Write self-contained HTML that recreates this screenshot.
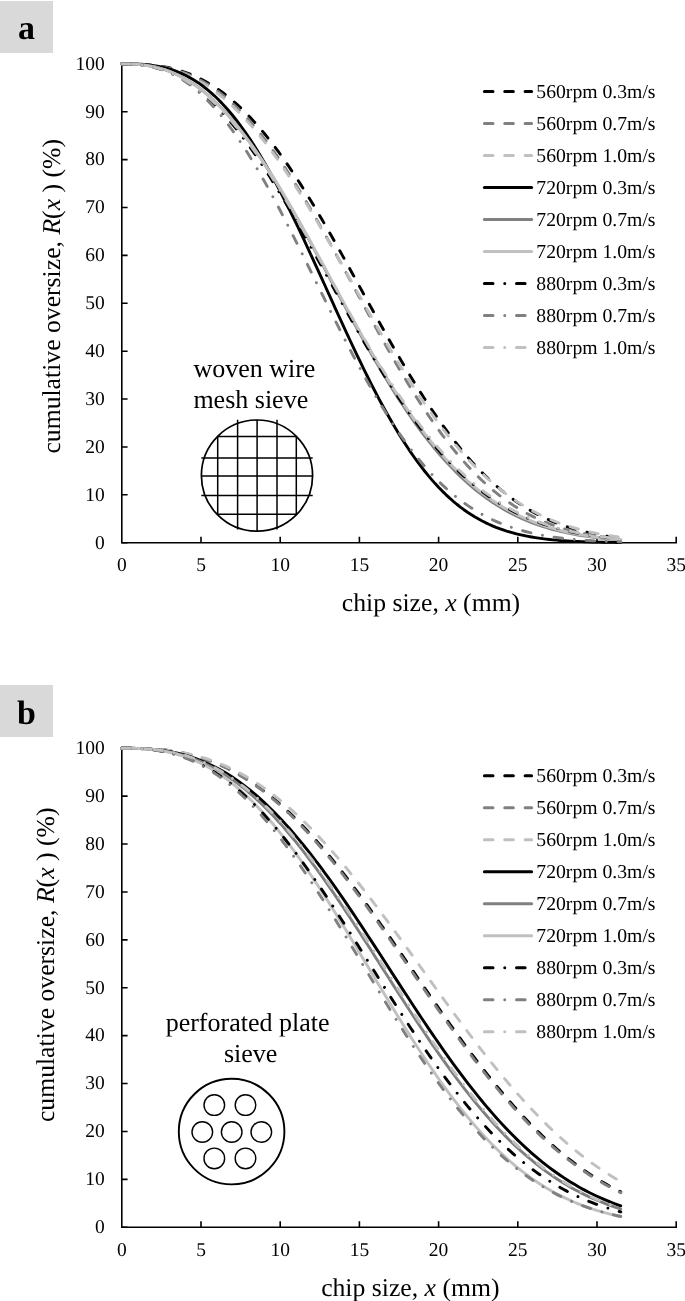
<!DOCTYPE html>
<html><head><meta charset="utf-8"><style>
html,body{margin:0;padding:0;background:#fff;}
body{width:685px;height:1301px;overflow:hidden;}
svg{display:block;font-family:"Liberation Serif", serif;will-change:transform;text-rendering:geometricPrecision;}
</style></head><body>
<svg width="685" height="1301" viewBox="0 0 685 1301">
<rect x="0" y="1" width="53" height="52" fill="#d9d9d9"/>
<text x="26.5" y="39.4" font-size="34" font-weight="bold" text-anchor="middle">a</text>
<path d="M121.8 63.2V542.7H677" fill="none" stroke="#000" stroke-width="1.6"/>
<path d="M121.8 542.7H127.6M121.8 494.82H127.6M121.8 446.94H127.6M121.8 399.06H127.6M121.8 351.18H127.6M121.8 303.3H127.6M121.8 255.42H127.6M121.8 207.54H127.6M121.8 159.66H127.6M121.8 111.78H127.6M121.8 63.9H127.6M201 542.7V536.7M280.2 542.7V536.7M359.4 542.7V536.7M438.6 542.7V536.7M517.8 542.7V536.7M597 542.7V536.7M676.2 542.7V536.7" stroke="#000" stroke-width="1.6"/>
<text x="104.8" y="548.5" font-size="19.5" text-anchor="end">0</text>
<text x="104.8" y="500.62" font-size="19.5" text-anchor="end">10</text>
<text x="104.8" y="452.74" font-size="19.5" text-anchor="end">20</text>
<text x="104.8" y="404.86" font-size="19.5" text-anchor="end">30</text>
<text x="104.8" y="356.98" font-size="19.5" text-anchor="end">40</text>
<text x="104.8" y="309.1" font-size="19.5" text-anchor="end">50</text>
<text x="104.8" y="261.22" font-size="19.5" text-anchor="end">60</text>
<text x="104.8" y="213.34" font-size="19.5" text-anchor="end">70</text>
<text x="104.8" y="165.46" font-size="19.5" text-anchor="end">80</text>
<text x="104.8" y="117.58" font-size="19.5" text-anchor="end">90</text>
<text x="104.8" y="69.7" font-size="19.5" text-anchor="end">100</text>
<text x="121.8" y="571.3" font-size="19.5" text-anchor="middle">0</text>
<text x="201" y="571.3" font-size="19.5" text-anchor="middle">5</text>
<text x="280.2" y="571.3" font-size="19.5" text-anchor="middle">10</text>
<text x="359.4" y="571.3" font-size="19.5" text-anchor="middle">15</text>
<text x="438.6" y="571.3" font-size="19.5" text-anchor="middle">20</text>
<text x="517.8" y="571.3" font-size="19.5" text-anchor="middle">25</text>
<text x="597" y="571.3" font-size="19.5" text-anchor="middle">30</text>
<text x="676.2" y="571.3" font-size="19.5" text-anchor="middle">35</text>
<text x="431" y="611" font-size="25.7" text-anchor="middle">chip size, <tspan font-style="italic">x</tspan> (mm)</text>
<text transform="translate(60.2 296.3) rotate(-90)" font-size="25.7" text-anchor="middle">cumulative oversize, <tspan font-style="italic">R</tspan>(<tspan font-style="italic">x</tspan> ) (%)</text>
<path d="M121.8 63.9 125.36 63.9 128.93 63.92 132.49 63.97 136.06 64.05 139.62 64.17 143.18 64.35 146.75 64.58 150.31 64.87 153.88 65.24 157.44 65.68 161 66.2 164.57 66.81 168.13 67.51 171.7 68.3 175.26 69.2 178.82 70.2 182.39 71.31 185.95 72.53 189.52 73.88 193.08 75.34 196.64 76.93 200.21 78.65 203.77 80.5 207.34 82.48 210.9 84.59 214.46 86.85 218.03 89.25 221.59 91.78 225.16 94.46 228.72 97.29 232.28 100.26 235.85 103.37 239.41 106.64 242.98 110.05 246.54 113.6 250.1 117.3 253.67 121.15 257.23 125.14 260.8 129.27 264.36 133.54 267.92 137.95 271.49 142.49 275.05 147.17 278.62 151.98 282.18 156.92 285.74 161.98 289.31 167.16 292.87 172.46 296.44 177.87 300 183.39 303.56 189.01 307.13 194.73 310.69 200.54 314.26 206.44 317.82 212.43 321.38 218.48 324.95 224.61 328.51 230.8 332.08 237.06 335.64 243.36 339.2 249.71 342.77 256.1 346.33 262.52 349.9 268.96 353.46 275.43 357.02 281.91 360.59 288.39 364.15 294.87 367.72 301.35 371.28 307.81 374.84 314.25 378.41 320.66 381.97 327.04 385.54 333.39 389.1 339.68 392.66 345.92 396.23 352.11 399.79 358.24 403.36 364.29 406.92 370.27 410.48 376.18 414.05 382 417.61 387.73 421.18 393.37 424.74 398.91 428.3 404.36 431.87 409.7 435.43 414.93 439 420.05 442.56 425.06 446.12 429.96 449.69 434.74 453.25 439.4 456.82 443.94 460.38 448.35 463.94 452.65 467.51 456.82 471.07 460.86 474.64 464.78 478.2 468.58 481.76 472.25 485.33 475.8 488.89 479.22 492.46 482.52 496.02 485.7 499.58 488.76 503.15 491.7 506.71 494.53 510.28 497.23 513.84 499.83 517.4 502.31 520.97 504.69 524.53 506.96 528.1 509.12 531.66 511.18 535.22 513.15 538.79 515.02 542.35 516.79 545.92 518.48 549.48 520.07 553.04 521.58 556.61 523.01 560.17 524.37 563.74 525.64 567.3 526.84 570.86 527.98 574.43 529.04 577.99 530.04 581.56 530.98 585.12 531.86 588.68 532.69 592.25 533.46 595.81 534.18 599.38 534.86 602.94 535.48 606.5 536.07 610.07 536.61 613.63 537.12 617.2 537.58 620.76 538.02" fill="none" stroke="#000000" stroke-width="2.9" stroke-linecap="round" stroke-linejoin="round" stroke-dasharray="8.6 11.75"/>
<path d="M121.8 63.9 125.36 63.9 128.93 63.93 132.49 63.98 136.06 64.07 139.62 64.21 143.18 64.4 146.75 64.66 150.31 64.99 153.88 65.39 157.44 65.88 161 66.45 164.57 67.12 168.13 67.89 171.7 68.76 175.26 69.74 178.82 70.84 182.39 72.05 185.95 73.39 189.52 74.85 193.08 76.44 196.64 78.17 200.21 80.03 203.77 82.03 207.34 84.17 210.9 86.46 214.46 88.9 218.03 91.48 221.59 94.21 225.16 97.09 228.72 100.13 232.28 103.31 235.85 106.65 239.41 110.15 242.98 113.79 246.54 117.59 250.1 121.53 253.67 125.63 257.23 129.87 260.8 134.26 264.36 138.79 267.92 143.46 271.49 148.28 275.05 153.22 278.62 158.3 282.18 163.5 285.74 168.83 289.31 174.28 292.87 179.84 296.44 185.51 300 191.29 303.56 197.16 307.13 203.13 310.69 209.19 314.26 215.33 317.82 221.54 321.38 227.82 324.95 234.17 328.51 240.57 332.08 247.02 335.64 253.52 339.2 260.04 342.77 266.6 346.33 273.18 349.9 279.78 353.46 286.38 357.02 292.98 360.59 299.58 364.15 306.16 367.72 312.72 371.28 319.26 374.84 325.76 378.41 332.22 381.97 338.64 385.54 345 389.1 351.3 392.66 357.54 396.23 363.71 399.79 369.8 403.36 375.81 406.92 381.73 410.48 387.56 414.05 393.3 417.61 398.93 421.18 404.47 424.74 409.89 428.3 415.21 431.87 420.4 435.43 425.49 439 430.45 442.56 435.29 446.12 440.01 449.69 444.6 453.25 449.07 456.82 453.41 460.38 457.62 463.94 461.7 467.51 465.66 471.07 469.48 474.64 473.18 478.2 476.75 481.76 480.19 485.33 483.5 488.89 486.69 492.46 489.75 496.02 492.7 499.58 495.52 503.15 498.23 506.71 500.82 510.28 503.29 513.84 505.66 517.4 507.91 520.97 510.06 524.53 512.11 528.1 514.05 531.66 515.9 535.22 517.66 538.79 519.32 542.35 520.89 545.92 522.38 549.48 523.78 553.04 525.11 556.61 526.36 560.17 527.54 563.74 528.64 567.3 529.68 570.86 530.66 574.43 531.57 577.99 532.42 581.56 533.22 585.12 533.97 588.68 534.67 592.25 535.31 595.81 535.92 599.38 536.48 602.94 537 606.5 537.48 610.07 537.93 613.63 538.34 617.2 538.73 620.76 539.08" fill="none" stroke="#808080" stroke-width="2.9" stroke-linecap="round" stroke-linejoin="round" stroke-dasharray="8.6 11.75"/>
<path d="M121.8 63.9 125.36 63.91 128.93 63.94 132.49 64.01 136.06 64.12 139.62 64.3 143.18 64.54 146.75 64.85 150.31 65.24 153.88 65.71 157.44 66.27 161 66.93 164.57 67.69 168.13 68.56 171.7 69.53 175.26 70.62 178.82 71.83 182.39 73.16 185.95 74.61 189.52 76.19 193.08 77.9 196.64 79.75 200.21 81.73 203.77 83.85 207.34 86.1 210.9 88.5 214.46 91.05 218.03 93.73 221.59 96.56 225.16 99.54 228.72 102.66 232.28 105.92 235.85 109.33 239.41 112.88 242.98 116.57 246.54 120.41 250.1 124.39 253.67 128.5 257.23 132.75 260.8 137.14 264.36 141.65 267.92 146.3 271.49 151.07 275.05 155.96 278.62 160.97 282.18 166.09 285.74 171.32 289.31 176.66 292.87 182.11 296.44 187.64 300 193.28 303.56 198.99 307.13 204.79 310.69 210.67 314.26 216.61 317.82 222.63 321.38 228.7 324.95 234.82 328.51 240.99 332.08 247.21 335.64 253.45 339.2 259.73 342.77 266.03 346.33 272.35 349.9 278.67 353.46 285.01 357.02 291.34 360.59 297.66 364.15 303.97 367.72 310.25 371.28 316.52 374.84 322.75 378.41 328.94 381.97 335.09 385.54 341.19 389.1 347.24 392.66 353.23 396.23 359.15 399.79 365.01 403.36 370.79 406.92 376.5 410.48 382.13 414.05 387.67 417.61 393.12 421.18 398.48 424.74 403.74 428.3 408.9 431.87 413.97 435.43 418.92 439 423.78 442.56 428.52 446.12 433.15 449.69 437.67 453.25 442.08 456.82 446.37 460.38 450.55 463.94 454.62 467.51 458.56 471.07 462.39 474.64 466.11 478.2 469.7 481.76 473.19 485.33 476.55 488.89 479.8 492.46 482.94 496.02 485.97 499.58 488.89 503.15 491.69 506.71 494.39 510.28 496.98 513.84 499.47 517.4 501.86 520.97 504.14 524.53 506.33 528.1 508.42 531.66 510.42 535.22 512.32 538.79 514.14 542.35 515.87 545.92 517.52 549.48 519.09 553.04 520.57 556.61 521.99 560.17 523.32 563.74 524.59 567.3 525.79 570.86 526.92 574.43 527.99 577.99 529 581.56 529.96 585.12 530.85 588.68 531.7 592.25 532.49 595.81 533.23 599.38 533.93 602.94 534.58 606.5 535.19 610.07 535.77 613.63 536.3 617.2 536.8 620.76 537.26" fill="none" stroke="#c0c0c0" stroke-width="2.9" stroke-linecap="round" stroke-linejoin="round" stroke-dasharray="8.6 11.75"/>
<path d="M121.8 63.9 125.36 63.9 128.93 63.93 132.49 63.98 136.06 64.07 139.62 64.23 143.18 64.44 146.75 64.74 150.31 65.12 153.88 65.59 157.44 66.17 161 66.86 164.57 67.68 168.13 68.62 171.7 69.7 175.26 70.93 178.82 72.31 182.39 73.85 185.95 75.56 189.52 77.43 193.08 79.49 196.64 81.73 200.21 84.16 203.77 86.77 207.34 89.59 210.9 92.61 214.46 95.82 218.03 99.25 221.59 102.88 225.16 106.72 228.72 110.77 232.28 115.02 235.85 119.49 239.41 124.16 242.98 129.04 246.54 134.13 250.1 139.41 253.67 144.89 257.23 150.57 260.8 156.43 264.36 162.48 267.92 168.7 271.49 175.09 275.05 181.65 278.62 188.36 282.18 195.22 285.74 202.22 289.31 209.35 292.87 216.6 296.44 223.96 300 231.42 303.56 238.97 307.13 246.6 310.69 254.29 314.26 262.04 317.82 269.83 321.38 277.66 324.95 285.5 328.51 293.36 332.08 301.21 335.64 309.04 339.2 316.85 342.77 324.62 346.33 332.33 349.9 339.99 353.46 347.58 357.02 355.08 360.59 362.49 364.15 369.79 367.72 376.99 371.28 384.06 374.84 391 378.41 397.81 381.97 404.47 385.54 410.98 389.1 417.33 392.66 423.52 396.23 429.54 399.79 435.39 403.36 441.07 406.92 446.56 410.48 451.87 414.05 457 417.61 461.94 421.18 466.69 424.74 471.26 428.3 475.65 431.87 479.85 435.43 483.86 439 487.7 442.56 491.35 446.12 494.83 449.69 498.14 453.25 501.27 456.82 504.24 460.38 507.05 463.94 509.7 467.51 512.2 471.07 514.55 474.64 516.76 478.2 518.83 481.76 520.77 485.33 522.58 488.89 524.27 492.46 525.85 496.02 527.31 499.58 528.67 503.15 529.93 506.71 531.1 510.28 532.17 513.84 533.16 517.4 534.07 520.97 534.91 524.53 535.68 528.1 536.38 531.66 537.02 535.22 537.61 538.79 538.14 542.35 538.63 545.92 539.07 549.48 539.46 553.04 539.82 556.61 540.14 560.17 540.44 563.74 540.7 567.3 540.93 570.86 541.14 574.43 541.33 577.99 541.5 581.56 541.65 585.12 541.78 588.68 541.89 592.25 542 595.81 542.09 599.38 542.17 602.94 542.24 606.5 542.3 610.07 542.36 613.63 542.4 617.2 542.45 620.76 542.48" fill="none" stroke="#000000" stroke-width="2.9" stroke-linecap="round" stroke-linejoin="round"/>
<path d="M121.8 63.9 125.36 63.91 128.93 63.97 132.49 64.09 136.06 64.28 139.62 64.56 143.18 64.93 146.75 65.41 150.31 65.99 153.88 66.7 157.44 67.53 161 68.49 164.57 69.58 168.13 70.81 171.7 72.19 175.26 73.71 178.82 75.39 182.39 77.21 185.95 79.2 189.52 81.35 193.08 83.65 196.64 86.12 200.21 88.76 203.77 91.56 207.34 94.52 210.9 97.66 214.46 100.95 218.03 104.42 221.59 108.04 225.16 111.83 228.72 115.78 232.28 119.9 235.85 124.16 239.41 128.59 242.98 133.16 246.54 137.88 250.1 142.75 253.67 147.76 257.23 152.9 260.8 158.18 264.36 163.58 267.92 169.1 271.49 174.75 275.05 180.5 278.62 186.36 282.18 192.31 285.74 198.37 289.31 204.5 292.87 210.72 296.44 217.01 300 223.37 303.56 229.79 307.13 236.26 310.69 242.78 314.26 249.34 317.82 255.92 321.38 262.54 324.95 269.17 328.51 275.81 332.08 282.45 335.64 289.09 339.2 295.72 342.77 302.33 346.33 308.91 349.9 315.46 353.46 321.98 357.02 328.45 360.59 334.87 364.15 341.24 367.72 347.54 371.28 353.78 374.84 359.94 378.41 366.02 381.97 372.02 385.54 377.93 389.1 383.75 392.66 389.48 396.23 395.1 399.79 400.62 403.36 406.03 406.92 411.33 410.48 416.52 414.05 421.6 417.61 426.55 421.18 431.39 424.74 436.1 428.3 440.69 431.87 445.16 435.43 449.5 439 453.72 442.56 457.82 446.12 461.78 449.69 465.63 453.25 469.34 456.82 472.94 460.38 476.4 463.94 479.75 467.51 482.98 471.07 486.08 474.64 489.07 478.2 491.94 481.76 494.7 485.33 497.34 488.89 499.88 492.46 502.3 496.02 504.62 499.58 506.84 503.15 508.95 506.71 510.97 510.28 512.89 513.84 514.72 517.4 516.46 520.97 518.12 524.53 519.68 528.1 521.17 531.66 522.58 535.22 523.91 538.79 525.17 542.35 526.36 545.92 527.48 549.48 528.54 553.04 529.54 556.61 530.47 560.17 531.35 563.74 532.18 567.3 532.95 570.86 533.68 574.43 534.36 577.99 534.99 581.56 535.59 585.12 536.14 588.68 536.66 592.25 537.14 595.81 537.59 599.38 538 602.94 538.39 606.5 538.74 610.07 539.08 613.63 539.38 617.2 539.67 620.76 539.93" fill="none" stroke="#808080" stroke-width="2.9" stroke-linecap="round" stroke-linejoin="round"/>
<path d="M121.8 63.9 125.36 63.91 128.93 63.97 132.49 64.1 136.06 64.3 139.62 64.58 143.18 64.97 146.75 65.46 150.31 66.06 153.88 66.78 157.44 67.63 161 68.6 164.57 69.71 168.13 70.96 171.7 72.36 175.26 73.9 178.82 75.59 182.39 77.44 185.95 79.44 189.52 81.6 193.08 83.92 196.64 86.4 200.21 89.04 203.77 91.85 207.34 94.82 210.9 97.95 214.46 101.25 218.03 104.71 221.59 108.33 225.16 112.11 228.72 116.05 232.28 120.15 235.85 124.4 239.41 128.8 242.98 133.35 246.54 138.05 250.1 142.88 253.67 147.85 257.23 152.96 260.8 158.2 264.36 163.56 267.92 169.03 271.49 174.62 275.05 180.32 278.62 186.13 282.18 192.03 285.74 198.02 289.31 204.09 292.87 210.24 296.44 216.47 300 222.76 303.56 229.11 307.13 235.51 310.69 241.95 314.26 248.43 317.82 254.95 321.38 261.49 324.95 268.04 328.51 274.61 332.08 281.17 335.64 287.74 339.2 294.29 342.77 300.83 346.33 307.34 349.9 313.83 353.46 320.28 357.02 326.68 360.59 333.04 364.15 339.34 367.72 345.59 371.28 351.76 374.84 357.87 378.41 363.9 381.97 369.86 385.54 375.72 389.1 381.5 392.66 387.19 396.23 392.78 399.79 398.26 403.36 403.65 406.92 408.93 410.48 414.1 414.05 419.15 417.61 424.1 421.18 428.92 424.74 433.63 428.3 438.22 431.87 442.7 435.43 447.04 439 451.27 442.56 455.38 446.12 459.36 449.69 463.22 453.25 466.96 456.82 470.58 460.38 474.08 463.94 477.46 467.51 480.72 471.07 483.86 474.64 486.89 478.2 489.8 481.76 492.6 485.33 495.29 488.89 497.87 492.46 500.34 496.02 502.71 499.58 504.97 503.15 507.14 506.71 509.21 510.28 511.18 513.84 513.06 517.4 514.86 520.97 516.56 524.53 518.18 528.1 519.72 531.66 521.18 535.22 522.57 538.79 523.88 542.35 525.12 545.92 526.29 549.48 527.4 553.04 528.44 556.61 529.43 560.17 530.36 563.74 531.23 567.3 532.05 570.86 532.82 574.43 533.54 577.99 534.22 581.56 534.85 585.12 535.44 588.68 536 592.25 536.51 595.81 537 599.38 537.45 602.94 537.86 606.5 538.25 610.07 538.61 613.63 538.95 617.2 539.26 620.76 539.55" fill="none" stroke="#c0c0c0" stroke-width="2.9" stroke-linecap="round" stroke-linejoin="round"/>
<path d="M121.8 63.9 125.36 63.92 128.93 63.99 132.49 64.15 136.06 64.39 139.62 64.73 143.18 65.19 146.75 65.76 150.31 66.45 153.88 67.27 157.44 68.23 161 69.33 164.57 70.57 168.13 71.95 171.7 73.49 175.26 75.18 178.82 77.03 182.39 79.03 185.95 81.2 189.52 83.52 193.08 86.01 196.64 88.66 200.21 91.48 203.77 94.46 207.34 97.6 210.9 100.9 214.46 104.36 218.03 107.98 221.59 111.76 225.16 115.7 228.72 119.79 232.28 124.03 235.85 128.41 239.41 132.94 242.98 137.61 246.54 142.42 250.1 147.36 253.67 152.43 257.23 157.63 260.8 162.94 264.36 168.37 267.92 173.9 271.49 179.54 275.05 185.28 278.62 191.11 282.18 197.02 285.74 203.02 289.31 209.09 292.87 215.22 296.44 221.42 300 227.67 303.56 233.97 307.13 240.31 310.69 246.69 314.26 253.1 317.82 259.52 321.38 265.97 324.95 272.42 328.51 278.87 332.08 285.32 335.64 291.76 339.2 298.18 342.77 304.58 346.33 310.95 349.9 317.28 353.46 323.58 357.02 329.82 360.59 336.02 364.15 342.16 367.72 348.23 371.28 354.24 374.84 360.18 378.41 366.04 381.97 371.82 385.54 377.52 389.1 383.13 392.66 388.65 396.23 394.07 399.79 399.4 403.36 404.62 406.92 409.74 410.48 414.75 414.05 419.66 417.61 424.46 421.18 429.14 424.74 433.72 428.3 438.18 431.87 442.52 435.43 446.75 439 450.86 442.56 454.86 446.12 458.74 449.69 462.51 453.25 466.16 456.82 469.69 460.38 473.11 463.94 476.42 467.51 479.61 471.07 482.69 474.64 485.66 478.2 488.53 481.76 491.28 485.33 493.93 488.89 496.48 492.46 498.93 496.02 501.27 499.58 503.52 503.15 505.68 506.71 507.74 510.28 509.71 513.84 511.6 517.4 513.39 520.97 515.11 524.53 516.74 528.1 518.3 531.66 519.77 535.22 521.18 538.79 522.51 542.35 523.78 545.92 524.98 549.48 526.12 553.04 527.19 556.61 528.21 560.17 529.17 563.74 530.08 567.3 530.93 570.86 531.74 574.43 532.5 577.99 533.21 581.56 533.88 585.12 534.51 588.68 535.1 592.25 535.66 595.81 536.18 599.38 536.66 602.94 537.11 606.5 537.54 610.07 537.93 613.63 538.3 617.2 538.65 620.76 538.96" fill="none" stroke="#000000" stroke-width="2.9" stroke-linecap="round" stroke-linejoin="round" stroke-dasharray="8.6 11.75 0.01 11.75"/>
<path d="M121.8 63.9 125.36 63.91 128.93 63.98 132.49 64.11 136.06 64.34 139.62 64.66 143.18 65.09 146.75 65.65 150.31 66.34 153.88 67.17 157.44 68.15 161 69.28 164.57 70.57 168.13 72.03 171.7 73.66 175.26 75.47 178.82 77.46 182.39 79.63 185.95 81.99 189.52 84.54 193.08 87.28 196.64 90.21 200.21 93.34 203.77 96.67 207.34 100.19 210.9 103.91 214.46 107.82 218.03 111.92 221.59 116.21 225.16 120.69 228.72 125.36 232.28 130.21 235.85 135.24 239.41 140.44 242.98 145.81 246.54 151.35 250.1 157.04 253.67 162.88 257.23 168.88 260.8 175.01 264.36 181.27 267.92 187.66 271.49 194.16 275.05 200.78 278.62 207.49 282.18 214.3 285.74 221.19 289.31 228.16 292.87 235.2 296.44 242.29 300 249.42 303.56 256.6 307.13 263.81 310.69 271.03 314.26 278.27 317.82 285.51 321.38 292.74 324.95 299.95 328.51 307.14 332.08 314.3 335.64 321.41 339.2 328.47 342.77 335.47 346.33 342.41 349.9 349.27 353.46 356.05 357.02 362.74 360.59 369.33 364.15 375.83 367.72 382.21 371.28 388.48 374.84 394.64 378.41 400.67 381.97 406.58 385.54 412.35 389.1 417.99 392.66 423.49 396.23 428.85 399.79 434.06 403.36 439.14 406.92 444.06 410.48 448.84 414.05 453.46 417.61 457.94 421.18 462.27 424.74 466.45 428.3 470.48 431.87 474.36 435.43 478.09 439 481.68 442.56 485.13 446.12 488.43 449.69 491.59 453.25 494.62 456.82 497.51 460.38 500.27 463.94 502.9 467.51 505.41 471.07 507.79 474.64 510.06 478.2 512.2 481.76 514.24 485.33 516.17 488.89 517.99 492.46 519.71 496.02 521.33 499.58 522.86 503.15 524.3 506.71 525.65 510.28 526.92 513.84 528.11 517.4 529.23 520.97 530.27 524.53 531.25 528.1 532.16 531.66 533.01 535.22 533.8 538.79 534.53 542.35 535.21 545.92 535.85 549.48 536.43 553.04 536.97 556.61 537.48 560.17 537.94 563.74 538.37 567.3 538.76 570.86 539.12 574.43 539.45 577.99 539.76 581.56 540.04 585.12 540.29 588.68 540.52 592.25 540.74 595.81 540.93 599.38 541.11 602.94 541.27 606.5 541.42 610.07 541.55 613.63 541.67 617.2 541.78 620.76 541.88" fill="none" stroke="#808080" stroke-width="2.9" stroke-linecap="round" stroke-linejoin="round" stroke-dasharray="8.6 11.75 0.01 11.75"/>
<path d="M121.8 63.9 125.36 63.92 128.93 63.99 132.49 64.13 136.06 64.35 139.62 64.68 143.18 65.1 146.75 65.64 150.31 66.29 153.88 67.07 157.44 67.98 161 69.03 164.57 70.21 168.13 71.54 171.7 73.01 175.26 74.63 178.82 76.41 182.39 78.33 185.95 80.42 189.52 82.66 193.08 85.07 196.64 87.63 200.21 90.35 203.77 93.24 207.34 96.28 210.9 99.49 214.46 102.86 218.03 106.38 221.59 110.06 225.16 113.9 228.72 117.89 232.28 122.03 235.85 126.32 239.41 130.76 242.98 135.33 246.54 140.05 250.1 144.89 253.67 149.87 257.23 154.98 260.8 160.21 264.36 165.55 267.92 171 271.49 176.57 275.05 182.23 278.62 187.99 282.18 193.83 285.74 199.77 289.31 205.78 292.87 211.86 296.44 218 300 224.21 303.56 230.47 307.13 236.77 310.69 243.11 314.26 249.49 317.82 255.89 321.38 262.31 324.95 268.75 328.51 275.19 332.08 281.63 335.64 288.07 339.2 294.5 342.77 300.9 346.33 307.28 349.9 313.63 353.46 319.95 357.02 326.22 360.59 332.44 364.15 338.61 367.72 344.73 371.28 350.77 374.84 356.76 378.41 362.66 381.97 368.49 385.54 374.24 389.1 379.91 392.66 385.48 396.23 390.96 399.79 396.35 403.36 401.64 406.92 406.82 410.48 411.91 414.05 416.88 417.61 421.75 421.18 426.5 424.74 431.15 428.3 435.68 431.87 440.1 435.43 444.4 439 448.59 442.56 452.66 446.12 456.61 449.69 460.45 453.25 464.17 456.82 467.78 460.38 471.27 463.94 474.64 467.51 477.91 471.07 481.06 474.64 484.1 478.2 487.03 481.76 489.85 485.33 492.56 488.89 495.17 492.46 497.68 496.02 500.09 499.58 502.39 503.15 504.6 506.71 506.72 510.28 508.74 513.84 510.68 517.4 512.52 520.97 514.28 524.53 515.96 528.1 517.56 531.66 519.08 535.22 520.53 538.79 521.9 542.35 523.21 545.92 524.44 549.48 525.61 553.04 526.72 556.61 527.77 560.17 528.76 563.74 529.69 567.3 530.58 570.86 531.41 574.43 532.19 577.99 532.92 581.56 533.62 585.12 534.26 588.68 534.87 592.25 535.45 595.81 535.98 599.38 536.48 602.94 536.95 606.5 537.39 610.07 537.79 613.63 538.17 617.2 538.53 620.76 538.86" fill="none" stroke="#c0c0c0" stroke-width="2.9" stroke-linecap="round" stroke-linejoin="round" stroke-dasharray="8.6 11.75 0.01 11.75"/>
<path d="M484.4 91.5H531.6" stroke="#000000" stroke-width="3.0" stroke-linecap="round" stroke-dasharray="8.6 11.75"/>
<text x="536.3" y="98.1" font-size="19.7">560rpm 0.3m/s</text>
<path d="M484.4 123.5H531.6" stroke="#808080" stroke-width="3.0" stroke-linecap="round" stroke-dasharray="8.6 11.75"/>
<text x="536.3" y="130.1" font-size="19.7">560rpm 0.7m/s</text>
<path d="M484.4 155.5H531.6" stroke="#c0c0c0" stroke-width="3.0" stroke-linecap="round" stroke-dasharray="8.6 11.75"/>
<text x="536.3" y="162.1" font-size="19.7">560rpm 1.0m/s</text>
<path d="M484.4 187.5H531.6" stroke="#000000" stroke-width="3.0" stroke-linecap="round"/>
<text x="536.3" y="194.1" font-size="19.7">720rpm 0.3m/s</text>
<path d="M484.4 219.5H531.6" stroke="#808080" stroke-width="3.0" stroke-linecap="round"/>
<text x="536.3" y="226.1" font-size="19.7">720rpm 0.7m/s</text>
<path d="M484.4 251.5H531.6" stroke="#c0c0c0" stroke-width="3.0" stroke-linecap="round"/>
<text x="536.3" y="258.1" font-size="19.7">720rpm 1.0m/s</text>
<path d="M484.4 283.5H531.6" stroke="#000000" stroke-width="3.0" stroke-linecap="round" stroke-dasharray="8.6 11.75 0.01 11.75"/>
<text x="536.3" y="290.1" font-size="19.7">880rpm 0.3m/s</text>
<path d="M484.4 315.5H531.6" stroke="#808080" stroke-width="3.0" stroke-linecap="round" stroke-dasharray="8.6 11.75 0.01 11.75"/>
<text x="536.3" y="322.1" font-size="19.7">880rpm 0.7m/s</text>
<path d="M484.4 347.5H531.6" stroke="#c0c0c0" stroke-width="3.0" stroke-linecap="round" stroke-dasharray="8.6 11.75 0.01 11.75"/>
<text x="536.3" y="354.1" font-size="19.7">880rpm 1.0m/s</text>
<text x="193.4" y="377.2" font-size="26">woven wire</text>
<text x="193.4" y="408.4" font-size="26">mesh sieve</text>
<circle cx="257" cy="475.6" r="55.6" fill="none" stroke="#000" stroke-width="1.7"/>
<path d="M217.7 436.3V514.9M237.6 419.8V529.5M257.1 419.8V531.5M277 419.8V529.5M296.3 436.3V514.9M217.5 436.5H296.5M201.3 458H312.7M201.3 475.9H312.7M201.3 495.6H312.7M217.5 514.2H296.5" stroke="#000" stroke-width="1.5"/>
<rect x="0" y="685" width="53" height="52" fill="#d9d9d9"/>
<text x="26.5" y="724.4" font-size="34" font-weight="bold" text-anchor="middle">b</text>
<path d="M121.8 747.5V1227.3H677" fill="none" stroke="#000" stroke-width="1.6"/>
<path d="M121.8 1227.3H127.6M121.8 1179.39H127.6M121.8 1131.48H127.6M121.8 1083.57H127.6M121.8 1035.66H127.6M121.8 987.75H127.6M121.8 939.84H127.6M121.8 891.93H127.6M121.8 844.02H127.6M121.8 796.11H127.6M121.8 748.2H127.6M201 1227.3V1221.3M280.2 1227.3V1221.3M359.4 1227.3V1221.3M438.6 1227.3V1221.3M517.8 1227.3V1221.3M597 1227.3V1221.3M676.2 1227.3V1221.3" stroke="#000" stroke-width="1.6"/>
<text x="104.8" y="1233.1" font-size="19.5" text-anchor="end">0</text>
<text x="104.8" y="1185.19" font-size="19.5" text-anchor="end">10</text>
<text x="104.8" y="1137.28" font-size="19.5" text-anchor="end">20</text>
<text x="104.8" y="1089.37" font-size="19.5" text-anchor="end">30</text>
<text x="104.8" y="1041.46" font-size="19.5" text-anchor="end">40</text>
<text x="104.8" y="993.55" font-size="19.5" text-anchor="end">50</text>
<text x="104.8" y="945.64" font-size="19.5" text-anchor="end">60</text>
<text x="104.8" y="897.73" font-size="19.5" text-anchor="end">70</text>
<text x="104.8" y="849.82" font-size="19.5" text-anchor="end">80</text>
<text x="104.8" y="801.91" font-size="19.5" text-anchor="end">90</text>
<text x="104.8" y="754" font-size="19.5" text-anchor="end">100</text>
<text x="121.8" y="1255.9" font-size="19.5" text-anchor="middle">0</text>
<text x="201" y="1255.9" font-size="19.5" text-anchor="middle">5</text>
<text x="280.2" y="1255.9" font-size="19.5" text-anchor="middle">10</text>
<text x="359.4" y="1255.9" font-size="19.5" text-anchor="middle">15</text>
<text x="438.6" y="1255.9" font-size="19.5" text-anchor="middle">20</text>
<text x="517.8" y="1255.9" font-size="19.5" text-anchor="middle">25</text>
<text x="597" y="1255.9" font-size="19.5" text-anchor="middle">30</text>
<text x="676.2" y="1255.9" font-size="19.5" text-anchor="middle">35</text>
<text x="410.3" y="1295.6" font-size="25.7" text-anchor="middle">chip size, <tspan font-style="italic">x</tspan> (mm)</text>
<text transform="translate(53.9 964.8) rotate(-90)" font-size="25.7" text-anchor="middle">cumulative oversize, <tspan font-style="italic">R</tspan>(<tspan font-style="italic">x</tspan> ) (%)</text>
<path d="M121.8 748.2 125.36 748.2 128.93 748.22 132.49 748.25 136.06 748.3 139.62 748.38 143.18 748.5 146.75 748.64 150.31 748.83 153.88 749.07 157.44 749.34 161 749.67 164.57 750.05 168.13 750.49 171.7 750.99 175.26 751.54 178.82 752.16 182.39 752.85 185.95 753.61 189.52 754.43 193.08 755.33 196.64 756.31 200.21 757.37 203.77 758.5 207.34 759.71 210.9 761.01 214.46 762.39 218.03 763.86 221.59 765.42 225.16 767.06 228.72 768.8 232.28 770.62 235.85 772.54 239.41 774.55 242.98 776.65 246.54 778.85 250.1 781.14 253.67 783.53 257.23 786.01 260.8 788.59 264.36 791.26 267.92 794.03 271.49 796.89 275.05 799.85 278.62 802.9 282.18 806.05 285.74 809.29 289.31 812.62 292.87 816.04 296.44 819.55 300 823.15 303.56 826.84 307.13 830.61 310.69 834.47 314.26 838.41 317.82 842.43 321.38 846.53 324.95 850.71 328.51 854.96 332.08 859.28 335.64 863.68 339.2 868.14 342.77 872.67 346.33 877.26 349.9 881.91 353.46 886.62 357.02 891.38 360.59 896.19 364.15 901.06 367.72 905.96 371.28 910.91 374.84 915.9 378.41 920.93 381.97 925.99 385.54 931.07 389.1 936.18 392.66 941.32 396.23 946.47 399.79 951.64 403.36 956.83 406.92 962.02 410.48 967.21 414.05 972.41 417.61 977.61 421.18 982.8 424.74 987.99 428.3 993.16 431.87 998.32 435.43 1003.46 439 1008.57 442.56 1013.67 446.12 1018.73 449.69 1023.77 453.25 1028.77 456.82 1033.74 460.38 1038.66 463.94 1043.54 467.51 1048.38 471.07 1053.17 474.64 1057.91 478.2 1062.6 481.76 1067.23 485.33 1071.81 488.89 1076.32 492.46 1080.78 496.02 1085.17 499.58 1089.5 503.15 1093.75 506.71 1097.94 510.28 1102.07 513.84 1106.11 517.4 1110.09 520.97 1113.99 524.53 1117.82 528.1 1121.57 531.66 1125.25 535.22 1128.85 538.79 1132.37 542.35 1135.81 545.92 1139.17 549.48 1142.45 553.04 1145.66 556.61 1148.78 560.17 1151.83 563.74 1154.79 567.3 1157.68 570.86 1160.49 574.43 1163.21 577.99 1165.87 581.56 1168.44 585.12 1170.94 588.68 1173.36 592.25 1175.7 595.81 1177.97 599.38 1180.17 602.94 1182.3 606.5 1184.35 610.07 1186.33 613.63 1188.25 617.2 1190.1 620.76 1191.87" fill="none" stroke="#000000" stroke-width="2.9" stroke-linecap="round" stroke-linejoin="round" stroke-dasharray="8.6 11.75"/>
<path d="M121.8 748.2 125.36 748.2 128.93 748.22 132.49 748.25 136.06 748.31 139.62 748.39 143.18 748.51 146.75 748.66 150.31 748.86 153.88 749.1 157.44 749.38 161 749.72 164.57 750.12 168.13 750.56 171.7 751.07 175.26 751.65 178.82 752.28 182.39 752.99 185.95 753.76 189.52 754.61 193.08 755.54 196.64 756.53 200.21 757.61 203.77 758.77 207.34 760.01 210.9 761.34 214.46 762.75 218.03 764.25 221.59 765.84 225.16 767.51 228.72 769.28 232.28 771.14 235.85 773.09 239.41 775.14 242.98 777.28 246.54 779.52 250.1 781.85 253.67 784.27 257.23 786.8 260.8 789.42 264.36 792.13 267.92 794.94 271.49 797.85 275.05 800.85 278.62 803.94 282.18 807.13 285.74 810.41 289.31 813.78 292.87 817.25 296.44 820.8 300 824.45 303.56 828.18 307.13 831.99 310.69 835.89 314.26 839.88 317.82 843.94 321.38 848.08 324.95 852.3 328.51 856.59 332.08 860.95 335.64 865.38 339.2 869.88 342.77 874.45 346.33 879.07 349.9 883.76 353.46 888.5 357.02 893.29 360.59 898.14 364.15 903.03 367.72 907.97 371.28 912.94 374.84 917.96 378.41 923 381.97 928.08 385.54 933.19 389.1 938.32 392.66 943.47 396.23 948.64 399.79 953.83 403.36 959.02 406.92 964.23 410.48 969.43 414.05 974.64 417.61 979.84 421.18 985.04 424.74 990.22 428.3 995.39 431.87 1000.55 435.43 1005.69 439 1010.8 442.56 1015.89 446.12 1020.95 449.69 1025.97 453.25 1030.96 456.82 1035.92 460.38 1040.83 463.94 1045.7 467.51 1050.52 471.07 1055.29 474.64 1060.01 478.2 1064.68 481.76 1069.29 485.33 1073.84 488.89 1078.33 492.46 1082.76 496.02 1087.12 499.58 1091.42 503.15 1095.65 506.71 1099.81 510.28 1103.9 513.84 1107.92 517.4 1111.86 520.97 1115.73 524.53 1119.53 528.1 1123.25 531.66 1126.89 535.22 1130.45 538.79 1133.93 542.35 1137.34 545.92 1140.67 549.48 1143.91 553.04 1147.08 556.61 1150.17 560.17 1153.18 563.74 1156.11 567.3 1158.96 570.86 1161.73 574.43 1164.42 577.99 1167.04 581.56 1169.58 585.12 1172.04 588.68 1174.42 592.25 1176.74 595.81 1178.97 599.38 1181.14 602.94 1183.23 606.5 1185.25 610.07 1187.2 613.63 1189.08 617.2 1190.9 620.76 1192.65" fill="none" stroke="#808080" stroke-width="2.9" stroke-linecap="round" stroke-linejoin="round" stroke-dasharray="8.6 11.75"/>
<path d="M121.8 748.2 125.36 748.2 128.93 748.22 132.49 748.25 136.06 748.3 139.62 748.38 143.18 748.48 146.75 748.63 150.31 748.81 153.88 749.03 157.44 749.29 161 749.6 164.57 749.96 168.13 750.37 171.7 750.83 175.26 751.35 178.82 751.94 182.39 752.58 185.95 753.29 189.52 754.06 193.08 754.9 196.64 755.81 200.21 756.79 203.77 757.84 207.34 758.97 210.9 760.18 214.46 761.46 218.03 762.82 221.59 764.27 225.16 765.79 228.72 767.4 232.28 769.09 235.85 770.87 239.41 772.73 242.98 774.67 246.54 776.71 250.1 778.83 253.67 781.04 257.23 783.33 260.8 785.72 264.36 788.19 267.92 790.75 271.49 793.4 275.05 796.13 278.62 798.96 282.18 801.87 285.74 804.86 289.31 807.95 292.87 811.12 296.44 814.37 300 817.7 303.56 821.12 307.13 824.62 310.69 828.2 314.26 831.86 317.82 835.59 321.38 839.4 324.95 843.28 328.51 847.24 332.08 851.26 335.64 855.36 339.2 859.52 342.77 863.74 346.33 868.03 349.9 872.38 353.46 876.78 357.02 881.24 360.59 885.75 364.15 890.31 367.72 894.92 371.28 899.58 374.84 904.27 378.41 909.01 381.97 913.78 385.54 918.59 389.1 923.42 392.66 928.29 396.23 933.18 399.79 938.09 403.36 943.02 406.92 947.97 410.48 952.93 414.05 957.9 417.61 962.88 421.18 967.86 424.74 972.84 428.3 977.82 431.87 982.8 435.43 987.77 439 992.72 442.56 997.67 446.12 1002.59 449.69 1007.5 453.25 1012.38 456.82 1017.24 460.38 1022.07 463.94 1026.87 467.51 1031.64 471.07 1036.38 474.64 1041.07 478.2 1045.72 481.76 1050.34 485.33 1054.9 488.89 1059.42 492.46 1063.89 496.02 1068.31 499.58 1072.68 503.15 1076.99 506.71 1081.24 510.28 1085.44 513.84 1089.57 517.4 1093.65 520.97 1097.66 524.53 1101.61 528.1 1105.49 531.66 1109.3 535.22 1113.05 538.79 1116.73 542.35 1120.34 545.92 1123.88 549.48 1127.35 553.04 1130.74 556.61 1134.07 560.17 1137.32 563.74 1140.5 567.3 1143.61 570.86 1146.65 574.43 1149.61 577.99 1152.5 581.56 1155.32 585.12 1158.07 588.68 1160.74 592.25 1163.34 595.81 1165.87 599.38 1168.33 602.94 1170.72 606.5 1173.04 610.07 1175.29 613.63 1177.47 617.2 1179.59 620.76 1181.64" fill="none" stroke="#c0c0c0" stroke-width="2.9" stroke-linecap="round" stroke-linejoin="round" stroke-dasharray="8.6 11.75"/>
<path d="M121.8 748.2 125.36 748.2 128.93 748.22 132.49 748.27 136.06 748.35 139.62 748.46 143.18 748.62 146.75 748.83 150.31 749.09 153.88 749.4 157.44 749.78 161 750.22 164.57 750.73 168.13 751.32 171.7 751.97 175.26 752.71 178.82 753.53 182.39 754.43 185.95 755.42 189.52 756.5 193.08 757.66 196.64 758.93 200.21 760.29 203.77 761.74 207.34 763.3 210.9 764.95 214.46 766.71 218.03 768.58 221.59 770.54 225.16 772.62 228.72 774.8 232.28 777.09 235.85 779.49 239.41 781.99 242.98 784.61 246.54 787.33 250.1 790.16 253.67 793.1 257.23 796.15 260.8 799.31 264.36 802.58 267.92 805.95 271.49 809.42 275.05 813.01 278.62 816.69 282.18 820.47 285.74 824.36 289.31 828.34 292.87 832.42 296.44 836.59 300 840.85 303.56 845.21 307.13 849.65 310.69 854.17 314.26 858.78 317.82 863.46 321.38 868.22 324.95 873.05 328.51 877.95 332.08 882.92 335.64 887.95 339.2 893.04 342.77 898.18 346.33 903.38 349.9 908.62 353.46 913.91 357.02 919.24 360.59 924.6 364.15 930 367.72 935.43 371.28 940.88 374.84 946.35 378.41 951.83 381.97 957.33 385.54 962.83 389.1 968.34 392.66 973.85 396.23 979.36 399.79 984.86 403.36 990.34 406.92 995.81 410.48 1001.26 414.05 1006.69 417.61 1012.08 421.18 1017.45 424.74 1022.78 428.3 1028.07 431.87 1033.33 435.43 1038.53 439 1043.69 442.56 1048.8 446.12 1053.85 449.69 1058.84 453.25 1063.78 456.82 1068.65 460.38 1073.45 463.94 1078.19 467.51 1082.86 471.07 1087.45 474.64 1091.97 478.2 1096.42 481.76 1100.78 485.33 1105.07 488.89 1109.28 492.46 1113.4 496.02 1117.44 499.58 1121.39 503.15 1125.26 506.71 1129.04 510.28 1132.74 513.84 1136.35 517.4 1139.87 520.97 1143.3 524.53 1146.64 528.1 1149.9 531.66 1153.06 535.22 1156.14 538.79 1159.13 542.35 1162.04 545.92 1164.85 549.48 1167.58 553.04 1170.23 556.61 1172.79 560.17 1175.27 563.74 1177.66 567.3 1179.98 570.86 1182.21 574.43 1184.36 577.99 1186.44 581.56 1188.44 585.12 1190.37 588.68 1192.22 592.25 1194 595.81 1195.71 599.38 1197.35 602.94 1198.92 606.5 1200.43 610.07 1201.88 613.63 1203.26 617.2 1204.58 620.76 1205.85" fill="none" stroke="#000000" stroke-width="2.9" stroke-linecap="round" stroke-linejoin="round"/>
<path d="M121.8 748.2 125.36 748.2 128.93 748.23 132.49 748.28 136.06 748.37 139.62 748.5 143.18 748.68 146.75 748.91 150.31 749.2 153.88 749.55 157.44 749.97 161 750.46 164.57 751.02 168.13 751.66 171.7 752.38 175.26 753.19 178.82 754.09 182.39 755.07 185.95 756.15 189.52 757.33 193.08 758.6 196.64 759.97 200.21 761.44 203.77 763.02 207.34 764.7 210.9 766.49 214.46 768.39 218.03 770.4 221.59 772.52 225.16 774.75 228.72 777.09 232.28 779.55 235.85 782.12 239.41 784.8 242.98 787.6 246.54 790.5 250.1 793.53 253.67 796.66 257.23 799.9 260.8 803.26 264.36 806.73 267.92 810.3 271.49 813.98 275.05 817.77 278.62 821.66 282.18 825.66 285.74 829.75 289.31 833.95 292.87 838.24 296.44 842.62 300 847.09 303.56 851.65 307.13 856.3 310.69 861.03 314.26 865.84 317.82 870.72 321.38 875.68 324.95 880.71 328.51 885.8 332.08 890.95 335.64 896.16 339.2 901.43 342.77 906.74 346.33 912.11 349.9 917.51 353.46 922.95 357.02 928.43 360.59 933.93 364.15 939.47 367.72 945.02 371.28 950.59 374.84 956.17 378.41 961.76 381.97 967.36 385.54 972.95 389.1 978.54 392.66 984.12 396.23 989.69 399.79 995.25 403.36 1000.78 406.92 1006.28 410.48 1011.76 414.05 1017.21 417.61 1022.62 421.18 1027.99 424.74 1033.31 428.3 1038.59 431.87 1043.82 435.43 1048.99 439 1054.11 442.56 1059.17 446.12 1064.17 449.69 1069.1 453.25 1073.96 456.82 1078.75 460.38 1083.47 463.94 1088.11 467.51 1092.68 471.07 1097.17 474.64 1101.58 478.2 1105.9 481.76 1110.14 485.33 1114.3 488.89 1118.37 492.46 1122.35 496.02 1126.24 499.58 1130.05 503.15 1133.76 506.71 1137.39 510.28 1140.92 513.84 1144.37 517.4 1147.72 520.97 1150.98 524.53 1154.15 528.1 1157.23 531.66 1160.23 535.22 1163.13 538.79 1165.94 542.35 1168.67 545.92 1171.31 549.48 1173.86 553.04 1176.33 556.61 1178.71 560.17 1181.01 563.74 1183.23 567.3 1185.37 570.86 1187.43 574.43 1189.42 577.99 1191.33 581.56 1193.16 585.12 1194.92 588.68 1196.61 592.25 1198.23 595.81 1199.78 599.38 1201.27 602.94 1202.69 606.5 1204.05 610.07 1205.35 613.63 1206.59 617.2 1207.77 620.76 1208.9" fill="none" stroke="#808080" stroke-width="2.9" stroke-linecap="round" stroke-linejoin="round"/>
<path d="M121.8 748.2 125.36 748.21 128.93 748.23 132.49 748.29 136.06 748.38 139.62 748.52 143.18 748.72 146.75 748.98 150.31 749.3 153.88 749.69 157.44 750.15 161 750.7 164.57 751.33 168.13 752.04 171.7 752.85 175.26 753.76 178.82 754.76 182.39 755.87 185.95 757.08 189.52 758.4 193.08 759.83 196.64 761.38 200.21 763.04 203.77 764.82 207.34 766.72 210.9 768.74 214.46 770.88 218.03 773.15 221.59 775.54 225.16 778.06 228.72 780.7 232.28 783.47 235.85 786.37 239.41 789.4 242.98 792.55 246.54 795.83 250.1 799.24 253.67 802.77 257.23 806.43 260.8 810.2 264.36 814.1 267.92 818.12 271.49 822.26 275.05 826.51 278.62 830.87 282.18 835.35 285.74 839.93 289.31 844.62 292.87 849.41 296.44 854.3 300 859.28 303.56 864.35 307.13 869.51 310.69 874.76 314.26 880.08 317.82 885.48 321.38 890.95 324.95 896.48 328.51 902.08 332.08 907.73 335.64 913.44 339.2 919.19 342.77 924.99 346.33 930.82 349.9 936.69 353.46 942.58 357.02 948.49 360.59 954.42 364.15 960.37 367.72 966.31 371.28 972.27 374.84 978.21 378.41 984.15 381.97 990.08 385.54 995.98 389.1 1001.86 392.66 1007.72 396.23 1013.54 399.79 1019.32 403.36 1025.06 406.92 1030.76 410.48 1036.4 414.05 1041.99 417.61 1047.52 421.18 1052.99 424.74 1058.39 428.3 1063.72 431.87 1068.97 435.43 1074.15 439 1079.25 442.56 1084.27 446.12 1089.2 449.69 1094.05 453.25 1098.8 456.82 1103.47 460.38 1108.04 463.94 1112.51 467.51 1116.89 471.07 1121.16 474.64 1125.34 478.2 1129.42 481.76 1133.39 485.33 1137.27 488.89 1141.04 492.46 1144.7 496.02 1148.27 499.58 1151.73 503.15 1155.09 506.71 1158.34 510.28 1161.5 513.84 1164.55 517.4 1167.51 520.97 1170.36 524.53 1173.12 528.1 1175.77 531.66 1178.34 535.22 1180.81 538.79 1183.18 542.35 1185.46 545.92 1187.66 549.48 1189.77 553.04 1191.79 556.61 1193.72 560.17 1195.58 563.74 1197.35 567.3 1199.05 570.86 1200.66 574.43 1202.21 577.99 1203.68 581.56 1205.09 585.12 1206.42 588.68 1207.69 592.25 1208.9 595.81 1210.05 599.38 1211.14 602.94 1212.17 606.5 1213.14 610.07 1214.07 613.63 1214.94 617.2 1215.76 620.76 1216.54" fill="none" stroke="#c0c0c0" stroke-width="2.9" stroke-linecap="round" stroke-linejoin="round"/>
<path d="M121.8 748.2 125.36 748.21 128.93 748.24 132.49 748.31 136.06 748.43 139.62 748.6 143.18 748.83 146.75 749.12 150.31 749.48 153.88 749.92 157.44 750.44 161 751.04 164.57 751.73 168.13 752.51 171.7 753.38 175.26 754.35 178.82 755.42 182.39 756.59 185.95 757.87 189.52 759.25 193.08 760.74 196.64 762.34 200.21 764.06 203.77 765.89 207.34 767.83 210.9 769.89 214.46 772.07 218.03 774.37 221.59 776.78 225.16 779.32 228.72 781.97 232.28 784.74 235.85 787.63 239.41 790.64 242.98 793.77 246.54 797.01 250.1 800.37 253.67 803.85 257.23 807.44 260.8 811.14 264.36 814.95 267.92 818.87 271.49 822.9 275.05 827.03 278.62 831.27 282.18 835.6 285.74 840.03 289.31 844.56 292.87 849.18 296.44 853.88 300 858.67 303.56 863.54 307.13 868.49 310.69 873.52 314.26 878.61 317.82 883.77 321.38 889 324.95 894.28 328.51 899.62 332.08 905.01 335.64 910.45 339.2 915.93 342.77 921.45 346.33 927 349.9 932.58 353.46 938.18 357.02 943.81 360.59 949.45 364.15 955.1 367.72 960.76 371.28 966.43 374.84 972.09 378.41 977.75 381.97 983.39 385.54 989.02 389.1 994.64 392.66 1000.23 396.23 1005.79 399.79 1011.32 403.36 1016.82 406.92 1022.28 410.48 1027.69 414.05 1033.06 417.61 1038.38 421.18 1043.65 424.74 1048.87 428.3 1054.02 431.87 1059.11 435.43 1064.14 439 1069.1 442.56 1073.98 446.12 1078.8 449.69 1083.54 453.25 1088.2 456.82 1092.79 460.38 1097.29 463.94 1101.71 467.51 1106.05 471.07 1110.3 474.64 1114.46 478.2 1118.54 481.76 1122.53 485.33 1126.42 488.89 1130.23 492.46 1133.95 496.02 1137.57 499.58 1141.1 503.15 1144.55 506.71 1147.9 510.28 1151.15 513.84 1154.32 517.4 1157.4 520.97 1160.38 524.53 1163.28 528.1 1166.08 531.66 1168.8 535.22 1171.43 538.79 1173.98 542.35 1176.44 545.92 1178.81 549.48 1181.1 553.04 1183.31 556.61 1185.44 560.17 1187.49 563.74 1189.47 567.3 1191.37 570.86 1193.19 574.43 1194.95 577.99 1196.63 581.56 1198.24 585.12 1199.78 588.68 1201.26 592.25 1202.68 595.81 1204.03 599.38 1205.33 602.94 1206.56 606.5 1207.74 610.07 1208.86 613.63 1209.93 617.2 1210.95 620.76 1211.92" fill="none" stroke="#000000" stroke-width="2.9" stroke-linecap="round" stroke-linejoin="round" stroke-dasharray="8.6 11.75 0.01 11.75"/>
<path d="M121.8 748.2 125.36 748.21 128.93 748.24 132.49 748.31 136.06 748.43 139.62 748.6 143.18 748.83 146.75 749.13 150.31 749.5 153.88 749.95 157.44 750.48 161 751.1 164.57 751.82 168.13 752.62 171.7 753.53 175.26 754.54 178.82 755.66 182.39 756.88 185.95 758.22 189.52 759.67 193.08 761.24 196.64 762.92 200.21 764.73 203.77 766.66 207.34 768.71 210.9 770.89 214.46 773.2 218.03 775.63 221.59 778.19 225.16 780.87 228.72 783.69 232.28 786.63 235.85 789.7 239.41 792.9 242.98 796.23 246.54 799.68 250.1 803.25 253.67 806.95 257.23 810.77 260.8 814.72 264.36 818.77 267.92 822.95 271.49 827.24 275.05 831.64 278.62 836.15 282.18 840.76 285.74 845.48 289.31 850.29 292.87 855.2 296.44 860.2 300 865.3 303.56 870.47 307.13 875.73 310.69 881.06 314.26 886.46 317.82 891.93 321.38 897.46 324.95 903.05 328.51 908.7 332.08 914.39 335.64 920.13 339.2 925.91 342.77 931.72 346.33 937.55 349.9 943.42 353.46 949.3 357.02 955.19 360.59 961.1 364.15 967.01 367.72 972.91 371.28 978.81 374.84 984.7 378.41 990.58 381.97 996.43 385.54 1002.26 389.1 1008.06 392.66 1013.82 396.23 1019.55 399.79 1025.23 403.36 1030.86 406.92 1036.44 410.48 1041.97 414.05 1047.44 417.61 1052.84 421.18 1058.18 424.74 1063.45 428.3 1068.65 431.87 1073.77 435.43 1078.81 439 1083.77 442.56 1088.64 446.12 1093.43 449.69 1098.13 453.25 1102.74 456.82 1107.26 460.38 1111.69 463.94 1116.02 467.51 1120.25 471.07 1124.38 474.64 1128.42 478.2 1132.36 481.76 1136.2 485.33 1139.94 488.89 1143.57 492.46 1147.11 496.02 1150.55 499.58 1153.88 503.15 1157.12 506.71 1160.26 510.28 1163.3 513.84 1166.24 517.4 1169.08 520.97 1171.83 524.53 1174.49 528.1 1177.05 531.66 1179.52 535.22 1181.9 538.79 1184.19 542.35 1186.39 545.92 1188.5 549.48 1190.53 553.04 1192.48 556.61 1194.35 560.17 1196.14 563.74 1197.86 567.3 1199.49 570.86 1201.06 574.43 1202.56 577.99 1203.98 581.56 1205.34 585.12 1206.64 588.68 1207.87 592.25 1209.04 595.81 1210.16 599.38 1211.22 602.94 1212.22 606.5 1213.17 610.07 1214.07 613.63 1214.93 617.2 1215.73 620.76 1216.5" fill="none" stroke="#808080" stroke-width="2.9" stroke-linecap="round" stroke-linejoin="round" stroke-dasharray="8.6 11.75 0.01 11.75"/>
<path d="M121.8 748.2 125.36 748.2 128.93 748.23 132.49 748.27 136.06 748.35 139.62 748.48 143.18 748.64 146.75 748.86 150.31 749.13 153.88 749.46 157.44 749.86 161 750.32 164.57 750.86 168.13 751.47 171.7 752.16 175.26 752.93 178.82 753.78 182.39 754.72 185.95 755.76 189.52 756.88 193.08 758.1 196.64 759.42 200.21 760.84 203.77 762.36 207.34 763.98 210.9 765.71 214.46 767.54 218.03 769.48 221.59 771.53 225.16 773.69 228.72 775.97 232.28 778.35 235.85 780.84 239.41 783.45 242.98 786.17 246.54 789 250.1 791.94 253.67 794.99 257.23 798.16 260.8 801.43 264.36 804.82 267.92 808.32 271.49 811.92 275.05 815.63 278.62 819.44 282.18 823.36 285.74 827.37 289.31 831.49 292.87 835.7 296.44 840.01 300 844.41 303.56 848.9 307.13 853.48 310.69 858.14 314.26 862.88 317.82 867.7 321.38 872.6 324.95 877.57 328.51 882.6 332.08 887.7 335.64 892.86 339.2 898.08 342.77 903.35 346.33 908.67 349.9 914.03 353.46 919.44 357.02 924.88 360.59 930.36 364.15 935.86 367.72 941.39 371.28 946.94 374.84 952.51 378.41 958.09 381.97 963.67 385.54 969.26 389.1 974.85 392.66 980.43 396.23 986 399.79 991.56 403.36 997.1 406.92 1002.62 410.48 1008.12 414.05 1013.58 417.61 1019.02 421.18 1024.41 424.74 1029.77 428.3 1035.08 431.87 1040.34 435.43 1045.55 439 1050.71 442.56 1055.81 446.12 1060.85 449.69 1065.82 453.25 1070.73 456.82 1075.58 460.38 1080.35 463.94 1085.04 467.51 1089.67 471.07 1094.21 474.64 1098.68 478.2 1103.06 481.76 1107.36 485.33 1111.58 488.89 1115.71 492.46 1119.76 496.02 1123.71 499.58 1127.58 503.15 1131.36 506.71 1135.05 510.28 1138.65 513.84 1142.16 517.4 1145.58 520.97 1148.9 524.53 1152.14 528.1 1155.29 531.66 1158.34 535.22 1161.31 538.79 1164.18 542.35 1166.97 545.92 1169.67 549.48 1172.28 553.04 1174.81 556.61 1177.25 560.17 1179.61 563.74 1181.89 567.3 1184.08 570.86 1186.2 574.43 1188.23 577.99 1190.19 581.56 1192.07 585.12 1193.88 588.68 1195.62 592.25 1197.29 595.81 1198.88 599.38 1200.41 602.94 1201.88 606.5 1203.28 610.07 1204.62 613.63 1205.9 617.2 1207.12 620.76 1208.28" fill="none" stroke="#c0c0c0" stroke-width="2.9" stroke-linecap="round" stroke-linejoin="round" stroke-dasharray="8.6 11.75 0.01 11.75"/>
<path d="M484.4 775.8H531.6" stroke="#000000" stroke-width="3.0" stroke-linecap="round" stroke-dasharray="8.6 11.75"/>
<text x="536.3" y="782.4" font-size="19.7">560rpm 0.3m/s</text>
<path d="M484.4 807.8H531.6" stroke="#808080" stroke-width="3.0" stroke-linecap="round" stroke-dasharray="8.6 11.75"/>
<text x="536.3" y="814.4" font-size="19.7">560rpm 0.7m/s</text>
<path d="M484.4 839.8H531.6" stroke="#c0c0c0" stroke-width="3.0" stroke-linecap="round" stroke-dasharray="8.6 11.75"/>
<text x="536.3" y="846.4" font-size="19.7">560rpm 1.0m/s</text>
<path d="M484.4 871.8H531.6" stroke="#000000" stroke-width="3.0" stroke-linecap="round"/>
<text x="536.3" y="878.4" font-size="19.7">720rpm 0.3m/s</text>
<path d="M484.4 903.8H531.6" stroke="#808080" stroke-width="3.0" stroke-linecap="round"/>
<text x="536.3" y="910.4" font-size="19.7">720rpm 0.7m/s</text>
<path d="M484.4 935.8H531.6" stroke="#c0c0c0" stroke-width="3.0" stroke-linecap="round"/>
<text x="536.3" y="942.4" font-size="19.7">720rpm 1.0m/s</text>
<path d="M484.4 967.8H531.6" stroke="#000000" stroke-width="3.0" stroke-linecap="round" stroke-dasharray="8.6 11.75 0.01 11.75"/>
<text x="536.3" y="974.4" font-size="19.7">880rpm 0.3m/s</text>
<path d="M484.4 999.8H531.6" stroke="#808080" stroke-width="3.0" stroke-linecap="round" stroke-dasharray="8.6 11.75 0.01 11.75"/>
<text x="536.3" y="1006.4" font-size="19.7">880rpm 0.7m/s</text>
<path d="M484.4 1031.8H531.6" stroke="#c0c0c0" stroke-width="3.0" stroke-linecap="round" stroke-dasharray="8.6 11.75 0.01 11.75"/>
<text x="536.3" y="1038.4" font-size="19.7">880rpm 1.0m/s</text>
<text x="247.6" y="1031.3" font-size="26" text-anchor="middle">perforated plate</text>
<text x="250.6" y="1061.5" font-size="26" text-anchor="middle">sieve</text>
<circle cx="231.6" cy="1131.6" r="52.8" fill="none" stroke="#000" stroke-width="1.9"/>
<circle cx="214.3" cy="1105.1" r="10.3" fill="none" stroke="#000" stroke-width="1.4"/>
<circle cx="245.5" cy="1105.1" r="10.3" fill="none" stroke="#000" stroke-width="1.4"/>
<circle cx="202.3" cy="1132" r="10.3" fill="none" stroke="#000" stroke-width="1.4"/>
<circle cx="231.7" cy="1132" r="10.3" fill="none" stroke="#000" stroke-width="1.4"/>
<circle cx="261.3" cy="1132" r="10.3" fill="none" stroke="#000" stroke-width="1.4"/>
<circle cx="214.3" cy="1158.4" r="10.3" fill="none" stroke="#000" stroke-width="1.4"/>
<circle cx="245.5" cy="1158.4" r="10.3" fill="none" stroke="#000" stroke-width="1.4"/>
</svg>
</body></html>
